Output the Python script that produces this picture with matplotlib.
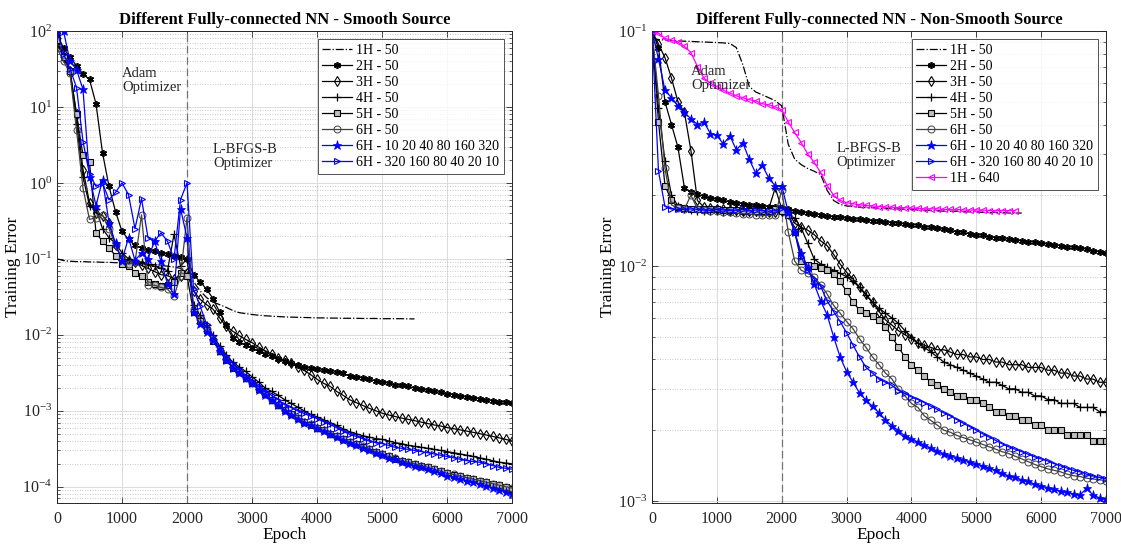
import numpy as np
import matplotlib
matplotlib.use("Agg")
import matplotlib.pyplot as plt
from matplotlib.ticker import LogLocator, NullFormatter, FixedLocator

plt.rcParams['font.family'] = ['Liberation Serif', 'DejaVu Serif']
plt.rcParams['mathtext.fontset'] = 'custom'
plt.rcParams['mathtext.rm'] = 'Liberation Serif'
plt.rcParams['mathtext.it'] = 'Liberation Serif:italic'

epochs = list(range(0, 7001, 100))

# ---------------- Smooth source (left) ----------------
s_epochs_1h = list(range(0, 5501, 100))
s_1h_50 = [0.1, 0.095, 0.093, 0.092, 0.092, 0.091, 0.091, 0.09, 0.09, 0.089,
           0.089, 0.088, 0.087, 0.086, 0.085, 0.084, 0.082, 0.08, 0.078, 0.075,
           0.07, 0.05, 0.038, 0.031, 0.027, 0.025, 0.023, 0.021, 0.0196, 0.019,
           0.0185, 0.0181, 0.0178, 0.0176, 0.0174, 0.0172, 0.0171, 0.017, 0.0169, 0.0168,
           0.0167, 0.0167, 0.0166, 0.0166, 0.0165, 0.0165, 0.0165, 0.0164, 0.0164, 0.0164,
           0.0163, 0.0163, 0.0163, 0.0163, 0.0162, 0.0162]
s_2h_50 = [90, 60, 45, 35, 27, 23, 11, 2.5, 0.9, 0.42,
           0.23, 0.18, 0.15, 0.14, 0.13, 0.125, 0.12, 0.115, 0.11, 0.105,
           0.1, 0.062, 0.05, 0.04, 0.03, 0.02, 0.0135, 0.0092, 0.008, 0.0074,
           0.0067, 0.0061, 0.0056, 0.0052, 0.0048, 0.0045, 0.0042, 0.004, 0.0038, 0.0036,
           0.0035, 0.0034, 0.0033, 0.0032, 0.0031, 0.0029, 0.0028, 0.0027, 0.0026, 0.0025,
           0.0024, 0.0023, 0.0022, 0.00215, 0.0021, 0.002, 0.00193, 0.00186, 0.0018, 0.00174,
           0.00168, 0.00162, 0.00157, 0.00152, 0.00148, 0.00144, 0.0014, 0.00136, 0.00132, 0.00129,
           0.00126]
s_3h_50 = [70, 45, 30, 8, 1.5, 0.55, 0.4, 0.37, 0.3, 0.15,
           0.1, 0.095, 0.09, 0.082, 0.075, 0.068, 0.062, 0.06, 0.055, 0.06,
           0.065, 0.038, 0.0294, 0.025, 0.0217, 0.0168, 0.013, 0.0112, 0.0098, 0.0087,
           0.0079, 0.0069, 0.0062, 0.0056, 0.005, 0.0046, 0.0042, 0.0038, 0.0034, 0.003,
           0.0026, 0.0023, 0.0021, 0.0018, 0.0016, 0.0014, 0.00128, 0.00118, 0.00108, 0.001,
           0.00093, 0.00088, 0.00084, 0.0008, 0.00077, 0.00074, 0.00071, 0.00068, 0.00065, 0.00063,
           0.0006, 0.00058, 0.00056, 0.00054, 0.00052, 0.0005, 0.00048, 0.00046, 0.00044, 0.00042,
           0.0004]
s_4h_50 = [80, 45, 30, 6, 1.2, 0.5, 0.45, 0.25, 0.19, 0.16,
           0.12, 0.1, 0.095, 0.09, 0.085, 0.08, 0.075, 0.07, 0.21, 0.08,
           0.1, 0.025, 0.018, 0.0135, 0.0098, 0.0072, 0.0055, 0.0044, 0.0038, 0.0033,
           0.0028, 0.0024, 0.002, 0.0018, 0.0016, 0.0014, 0.00125, 0.00112, 0.001, 0.0009,
           0.00083, 0.00076, 0.0007, 0.00064, 0.00058, 0.00053, 0.0005, 0.00047, 0.00045, 0.00043,
           0.00042, 0.0004, 0.00038, 0.00037, 0.00035, 0.00034, 0.00033, 0.00032, 0.00031, 0.0003,
           0.00029, 0.00028, 0.00027, 0.00026, 0.00025, 0.00024, 0.00023, 0.00022, 0.00021, 0.000205,
           0.0002]
s_5h_50 = [75, 45, 30, 8, 2.3, 1.9, 0.22, 0.17, 0.14, 0.11,
           0.085, 0.08, 0.066, 0.06, 0.05, 0.047, 0.044, 0.045, 0.05, 0.065,
           0.06, 0.02, 0.015, 0.0115, 0.0083, 0.0061, 0.0047, 0.0037, 0.0032, 0.0027,
           0.0023, 0.00195, 0.00165, 0.0014, 0.0012, 0.00103, 0.0009, 0.0008, 0.00072, 0.00065,
           0.0006, 0.00055, 0.0005, 0.00046, 0.00042, 0.00039, 0.00036, 0.00033, 0.00031, 0.00029,
           0.00027, 0.00025, 0.000235, 0.00022, 0.00021, 0.0002, 0.00019, 0.00018, 0.00017, 0.00016,
           0.00015, 0.000143, 0.000137, 0.000131, 0.000125, 0.00012, 0.000114, 0.000109, 0.000104, 0.0001,
           0.000093]
s_6h_50 = [60, 40, 28, 5, 0.85, 0.33, 0.35, 0.38, 0.25, 0.15,
           0.1, 0.085, 0.09, 0.38, 0.045, 0.045, 0.042, 0.04, 0.032, 0.06,
           0.35, 0.022, 0.016, 0.012, 0.0085, 0.0062, 0.0048, 0.0038, 0.0032, 0.0027,
           0.0023, 0.00195, 0.00165, 0.0014, 0.0012, 0.00103, 0.0009, 0.0008, 0.00072, 0.00066,
           0.0006, 0.00055, 0.0005, 0.00046, 0.00042, 0.00039, 0.00036, 0.00034, 0.00031, 0.00029,
           0.00027, 0.00025, 0.00024, 0.00022, 0.00021, 0.0002, 0.00019, 0.00018, 0.00017, 0.00016,
           0.00015, 0.000145, 0.000138, 0.000132, 0.000126, 0.00012, 0.000115, 0.00011, 0.000105, 0.0001,
           0.000096]
s_6h_up = [100, 100, 40, 31, 17, 1.2, 0.5, 1.1, 0.3, 0.16,
           0.095, 0.19, 0.095, 0.12, 0.1, 0.17, 0.093, 0.047, 0.034, 0.46,
           0.19, 0.02, 0.014, 0.011, 0.0085, 0.0062, 0.0047, 0.0037, 0.0031, 0.0027,
           0.0023, 0.0019, 0.0016, 0.00137, 0.00118, 0.001, 0.00088, 0.00078, 0.0007, 0.00064,
           0.00059, 0.00054, 0.00049, 0.00045, 0.00041, 0.00038, 0.00035, 0.00032, 0.0003, 0.00028,
           0.00026, 0.00024, 0.00023, 0.00021, 0.0002, 0.00019, 0.00018, 0.00017, 0.00016, 0.00015,
           0.00014, 0.000133, 0.000126, 0.00012, 0.000114, 0.000108, 0.000102, 0.000096, 0.000091, 0.000086,
           0.00008]
s_6h_down = [100, 50, 32, 18, 3.5, 1.3, 0.9, 1.0, 0.6, 0.75,
             1.0, 0.7, 0.25, 0.62, 0.19, 0.17, 0.22, 0.17, 0.1, 0.6,
             1.0, 0.04, 0.024, 0.014, 0.0095, 0.0068, 0.0052, 0.0042, 0.0035, 0.0029,
             0.0025, 0.0021, 0.0018, 0.0016, 0.0014, 0.0012, 0.0011, 0.001, 0.00092, 0.00085,
             0.00079, 0.00072, 0.00066, 0.0006, 0.00054, 0.00049, 0.00046, 0.00043, 0.0004, 0.00038,
             0.00037, 0.00035, 0.00033, 0.00032, 0.00031, 0.0003, 0.00029, 0.00028, 0.00027, 0.00026,
             0.00025, 0.00024, 0.00023, 0.00022, 0.000215, 0.00021, 0.0002, 0.00019, 0.00018, 0.000175,
             0.00017]

# ---------------- Non-smooth source (right) ----------------
n_epochs_1h50 = list(range(0, 5701, 100))
n_epochs_1h640 = list(range(0, 5601, 100))
n_1h_50 = [0.093, 0.092, 0.0915, 0.091, 0.0908, 0.0905, 0.0903, 0.09, 0.0898, 0.0895,
           0.0893, 0.089, 0.0885, 0.085, 0.072, 0.058, 0.055, 0.0535, 0.052, 0.0505,
           0.048, 0.033, 0.0285, 0.027, 0.026, 0.0253, 0.0245, 0.021, 0.019, 0.0183,
           0.018, 0.0179, 0.0178, 0.0177, 0.0177, 0.0176, 0.0176, 0.0175, 0.0175, 0.0174,
           0.0174, 0.0173, 0.0173, 0.0172, 0.0172, 0.0171, 0.0171, 0.0171, 0.017, 0.017,
           0.017, 0.0169, 0.0169, 0.0169, 0.0169, 0.0168, 0.0168, 0.0168]
n_2h_50 = [0.1, 0.085, 0.05, 0.04, 0.032, 0.0215, 0.0207, 0.0202, 0.0198, 0.0195,
           0.0192, 0.019, 0.0188, 0.0186, 0.0184, 0.0182, 0.0181, 0.018, 0.0179, 0.0178,
           0.0177, 0.0175, 0.0172, 0.017, 0.0168, 0.0167, 0.0165, 0.0163, 0.0162, 0.0161,
           0.016, 0.0159, 0.0158, 0.0157, 0.0156, 0.0155, 0.0154, 0.0153, 0.0152, 0.0151,
           0.015, 0.0149, 0.0147, 0.0146, 0.0145, 0.0143, 0.0142, 0.014, 0.0139, 0.0137,
           0.0136, 0.0135, 0.0133, 0.0132, 0.0131, 0.013, 0.0129, 0.0128, 0.0127, 0.0126,
           0.0125, 0.0124, 0.0123, 0.0122, 0.0121, 0.012, 0.0119, 0.0118, 0.0116, 0.0115,
           0.0114]
n_3h_50 = [0.1, 0.088, 0.077, 0.063, 0.05, 0.045, 0.031, 0.019, 0.0178, 0.0176,
           0.0175, 0.0174, 0.0173, 0.0173, 0.0172, 0.0172, 0.0171, 0.0171, 0.017, 0.017,
           0.0172, 0.017, 0.0152, 0.0146, 0.0142, 0.0136, 0.0128, 0.0122, 0.0112, 0.0102,
           0.0094, 0.0088, 0.0081, 0.0076, 0.007, 0.0064, 0.0059, 0.0056, 0.0053, 0.0051,
           0.0049, 0.0047, 0.0046, 0.0045, 0.0044, 0.0044, 0.0043, 0.0042, 0.0042, 0.0041,
           0.0041, 0.004, 0.004, 0.0039, 0.0039, 0.0038, 0.0038, 0.0038, 0.0037, 0.0037,
           0.0037, 0.0036, 0.0036, 0.0035, 0.0035, 0.0034, 0.0034, 0.0033, 0.0033, 0.0032,
           0.0032]
n_4h_50 = [0.1, 0.047, 0.028, 0.02, 0.018, 0.0175, 0.0173, 0.0172, 0.0172, 0.0171,
           0.0171, 0.017, 0.017, 0.017, 0.0169, 0.0169, 0.0169, 0.0168, 0.0175, 0.0215,
           0.0175, 0.0165, 0.016, 0.0145, 0.0125, 0.0107, 0.0102, 0.0099, 0.0096, 0.0093,
           0.009, 0.0086, 0.0081, 0.0075, 0.007, 0.0066, 0.0063, 0.006, 0.0057, 0.0053,
           0.005, 0.0047, 0.0045, 0.0043, 0.0041, 0.0039, 0.0038, 0.0037, 0.0036, 0.0035,
           0.0034, 0.0033, 0.0032, 0.0032, 0.0031, 0.003, 0.003, 0.0029, 0.0029, 0.0028,
           0.0028, 0.0027, 0.0027, 0.0026, 0.0026, 0.0026, 0.0025, 0.0025, 0.0025, 0.0024,
           0.0024]
n_5h_50 = [0.1, 0.041, 0.022, 0.019, 0.0178, 0.0176, 0.0175, 0.0175, 0.0174, 0.0174,
           0.0174, 0.0173, 0.0173, 0.0173, 0.0172, 0.0172, 0.0172, 0.0171, 0.0172, 0.0175,
           0.0172, 0.0165, 0.014, 0.0105, 0.0101, 0.01, 0.0098, 0.0096, 0.0092, 0.0086,
           0.0078, 0.007, 0.0065, 0.0063, 0.0061, 0.0059, 0.0055, 0.005, 0.0045, 0.0041,
           0.0038, 0.0036, 0.0034, 0.0032, 0.0031, 0.003, 0.0029, 0.0028, 0.0028, 0.0027,
           0.0027, 0.0026, 0.0025, 0.0024, 0.0024, 0.0023, 0.0023, 0.0022, 0.0022, 0.0021,
           0.0021, 0.002, 0.002, 0.002, 0.0019, 0.0019, 0.0019, 0.0019, 0.0018, 0.0018,
           0.0018]
n_6h_50 = [0.1, 0.053, 0.026, 0.0182, 0.0176, 0.0175, 0.02, 0.0175, 0.0173, 0.0172,
           0.0171, 0.017, 0.0169, 0.0168, 0.0167, 0.0166, 0.0165, 0.0164, 0.0164, 0.0165,
           0.021, 0.014, 0.0105, 0.0096, 0.0093, 0.009, 0.0083, 0.0076, 0.0068, 0.0063,
           0.0058, 0.0054, 0.0049, 0.0045, 0.0041, 0.0038, 0.0035, 0.0033, 0.003, 0.0028,
           0.0026, 0.0025, 0.0023, 0.0022, 0.0021, 0.002, 0.00196, 0.0019, 0.00186, 0.00182,
           0.00178, 0.00174, 0.0017, 0.00166, 0.00162, 0.00159, 0.00155, 0.00151, 0.00147, 0.00143,
           0.0014, 0.00137, 0.00135, 0.00133, 0.0013, 0.00128, 0.00127, 0.00125, 0.00124, 0.00123,
           0.00122]
n_6h_up = [0.1, 0.076, 0.056, 0.052, 0.048, 0.045, 0.0423, 0.04, 0.041, 0.0366,
           0.036, 0.033, 0.0358, 0.0312, 0.0334, 0.0284, 0.0248, 0.0268, 0.0237, 0.0219,
           0.022, 0.017, 0.0139, 0.0114, 0.0099, 0.0084, 0.0071, 0.0062, 0.005, 0.0041,
           0.00355, 0.0032, 0.00288, 0.00268, 0.00253, 0.00237, 0.00221, 0.00209, 0.00199, 0.00189,
           0.00184, 0.00178, 0.00173, 0.00168, 0.00163, 0.00159, 0.00156, 0.00153, 0.0015, 0.00147,
           0.00144, 0.00141, 0.00138, 0.00135, 0.00131, 0.00128, 0.00126, 0.00123, 0.00121, 0.00118,
           0.00116, 0.00114, 0.00112, 0.0011, 0.00109, 0.00107, 0.00106, 0.00113, 0.00106, 0.00103,
           0.00102]
n_6h_down = [0.1, 0.0253, 0.0179, 0.0175, 0.0174, 0.0174, 0.0175, 0.0174, 0.0173, 0.0173,
             0.0174, 0.0173, 0.0172, 0.0173, 0.0174, 0.0172, 0.0173, 0.0172, 0.0171, 0.0172,
             0.0176, 0.0168, 0.0141, 0.0109, 0.0096, 0.0088, 0.0082, 0.0071, 0.0064, 0.0058,
             0.0052, 0.0046, 0.0041, 0.0037, 0.0035, 0.0033, 0.0032, 0.0031, 0.00295, 0.00287,
             0.00277, 0.0027, 0.00262, 0.00253, 0.00245, 0.00237, 0.0023, 0.00222, 0.00214, 0.00207,
             0.002, 0.00193, 0.00187, 0.00181, 0.00175, 0.0017, 0.00166, 0.00162, 0.00158, 0.00154,
             0.00151, 0.00148, 0.00144, 0.00141, 0.00138, 0.00135, 0.00133, 0.0013, 0.00128, 0.00126,
             0.00124]
n_1h_640 = [0.1, 0.098, 0.093, 0.0915, 0.0897, 0.086, 0.081, 0.0706, 0.063, 0.06,
            0.058, 0.056, 0.0545, 0.053, 0.052, 0.051, 0.0504, 0.049, 0.0485, 0.0475,
            0.0462, 0.041, 0.037, 0.0335, 0.03, 0.0276, 0.025, 0.022, 0.02, 0.019,
            0.0186, 0.0184, 0.0182, 0.0181, 0.018, 0.0179, 0.0178, 0.0178, 0.0177, 0.0177,
            0.0176, 0.0176, 0.0175, 0.0175, 0.0175, 0.0174, 0.0174, 0.0174, 0.0173, 0.0173,
            0.0173, 0.0173, 0.0172, 0.0172, 0.0172, 0.0172, 0.0172]

labels = ['1H - 50', '2H - 50', '3H - 50', '4H - 50', '5H - 50', '6H - 50',
          '6H - 10 20 40 80 160 320', '6H - 320 160 80 40 20 10', '1H - 640']

BLUE = (0, 0, 1)
MAG = (1, 0, 1)
LW = 0.9
styles = [
    dict(color='k', ls='-.', lw=LW, marker=None),
    dict(color='k', ls='-', lw=LW, marker=(6, 2, 0), ms=5, mew=1.2),
    dict(color='k', ls='-', lw=LW, marker='d', ms=5.5, mfc='none', mew=0.8),
    dict(color='k', ls='-', lw=LW, marker='+', ms=5.5, mew=0.9),
    dict(color='k', ls='-', lw=LW, marker='s', ms=3.8, mfc='0.75', mew=0.8),
    dict(color='0.25', ls='-', lw=LW, marker='o', ms=5, mfc='none', mew=0.7),
    dict(color=BLUE, ls='-', lw=LW, marker='*', ms=6.5, mew=0.5),
    dict(color=BLUE, ls='-', lw=LW, marker='>', ms=5, mfc='none', mew=0.8),
    dict(color=MAG, ls='-', lw=LW, marker='<', ms=5, mfc='none', mew=0.8),
]

fig = plt.figure(figsize=(11.21, 5.44), dpi=100)
W, H = 1121, 544
axL = fig.add_axes([57 / W, 1 - 503 / H, (512 - 57) / W, (503 - 31) / H])
axR = fig.add_axes([652 / W, 1 - 503 / H, (1106 - 652) / W, (503 - 31) / H])


def style_axes(ax, ylim, title, majors):
    ax.set_yscale('log')
    ax.set_xlim(0, 7000)
    ax.set_ylim(*ylim)
    ax.set_xticks(range(0, 7001, 1000))
    ax.yaxis.set_major_locator(FixedLocator(majors))
    ax.yaxis.set_minor_locator(LogLocator(base=10, subs=np.arange(2, 10), numticks=100))
    ax.yaxis.set_minor_formatter(NullFormatter())
    ax.grid(True, which='major', color='0.86', lw=0.7, ls='-')
    ax.yaxis.grid(True, which='minor', color='0.72', lw=0.6, ls=(0, (1, 2)))
    ax.set_axisbelow(True)
    ax.tick_params(which='both', direction='in', top=True, right=True, colors='0.15',
                   labelcolor='0.15', labelsize=11.5)
    ax.tick_params(which='major', length=4, width=0.6)
    ax.tick_params(which='minor', length=2.5, width=0.5)
    ax.tick_params(axis='x', which='major', pad=6)
    for sp in ax.spines.values():
        sp.set_color('0.15')
        sp.set_linewidth(0.7)
    ax.axvline(2000, color='0.45', ls=(0, (6, 3)), lw=0.9, zorder=1.5)
    ax.set_xlabel('Epoch', fontsize=12.5, labelpad=0)
    ax.set_ylabel('Training Error', fontsize=12.5, labelpad=1)
    ax.set_title(title, fontsize=12, fontweight='bold', pad=5)


def draw(ax, xs_list, ys_list, names, sty):
    for x, y, nm, st in zip(xs_list, ys_list, names, sty):
        st = dict(st)
        color = st.pop('color')
        ax.plot(x, y, label=nm, color=color, mec=color, **st)
    leg = ax.legend(loc='upper right', fontsize=10, frameon=True, fancybox=False,
                    edgecolor='0.15', borderpad=0.35, labelspacing=0.22,
                    handlelength=2.1, handletextpad=0.35, borderaxespad=0.55)
    leg.get_frame().set_linewidth(0.7)


# left panel
left_x = [s_epochs_1h] + [epochs] * 7
left_y = [s_1h_50, s_2h_50, s_3h_50, s_4h_50, s_5h_50, s_6h_50, s_6h_up, s_6h_down]
draw(axL, left_x, left_y, labels[:8], styles[:8])
style_axes(axL, (6.1e-5, 100), 'Different Fully-connected NN - Smooth Source',
           [1e-4, 1e-3, 1e-2, 1e-1, 1, 10, 100])
axL.text(1000, 22, 'Adam\nOptimizer', fontsize=10.5, color='0.15', va='center', linespacing=1.1)
axL.text(2400, 2.2, 'L-BFGS-B\nOptimizer', fontsize=10.5, color='0.15', va='center', linespacing=1.1)

# right panel
right_x = [n_epochs_1h50] + [epochs] * 7 + [n_epochs_1h640]
right_y = [n_1h_50, n_2h_50, n_3h_50, n_4h_50, n_5h_50, n_6h_50, n_6h_up, n_6h_down, n_1h_640]
draw(axR, right_x, right_y, labels, styles)
style_axes(axR, (0.00098, 0.1), 'Different Fully-connected NN - Non-Smooth Source',
           [1e-3, 1e-2, 1e-1])
axR.text(600, 0.063, 'Adam\nOptimizer', fontsize=10.5, color='0.15', va='center', linespacing=1.1)
axR.text(2850, 0.0295, 'L-BFGS-B\nOptimizer', fontsize=10.5, color='0.15', va='center', linespacing=1.1)

fig.savefig('out.png', dpi=100)
